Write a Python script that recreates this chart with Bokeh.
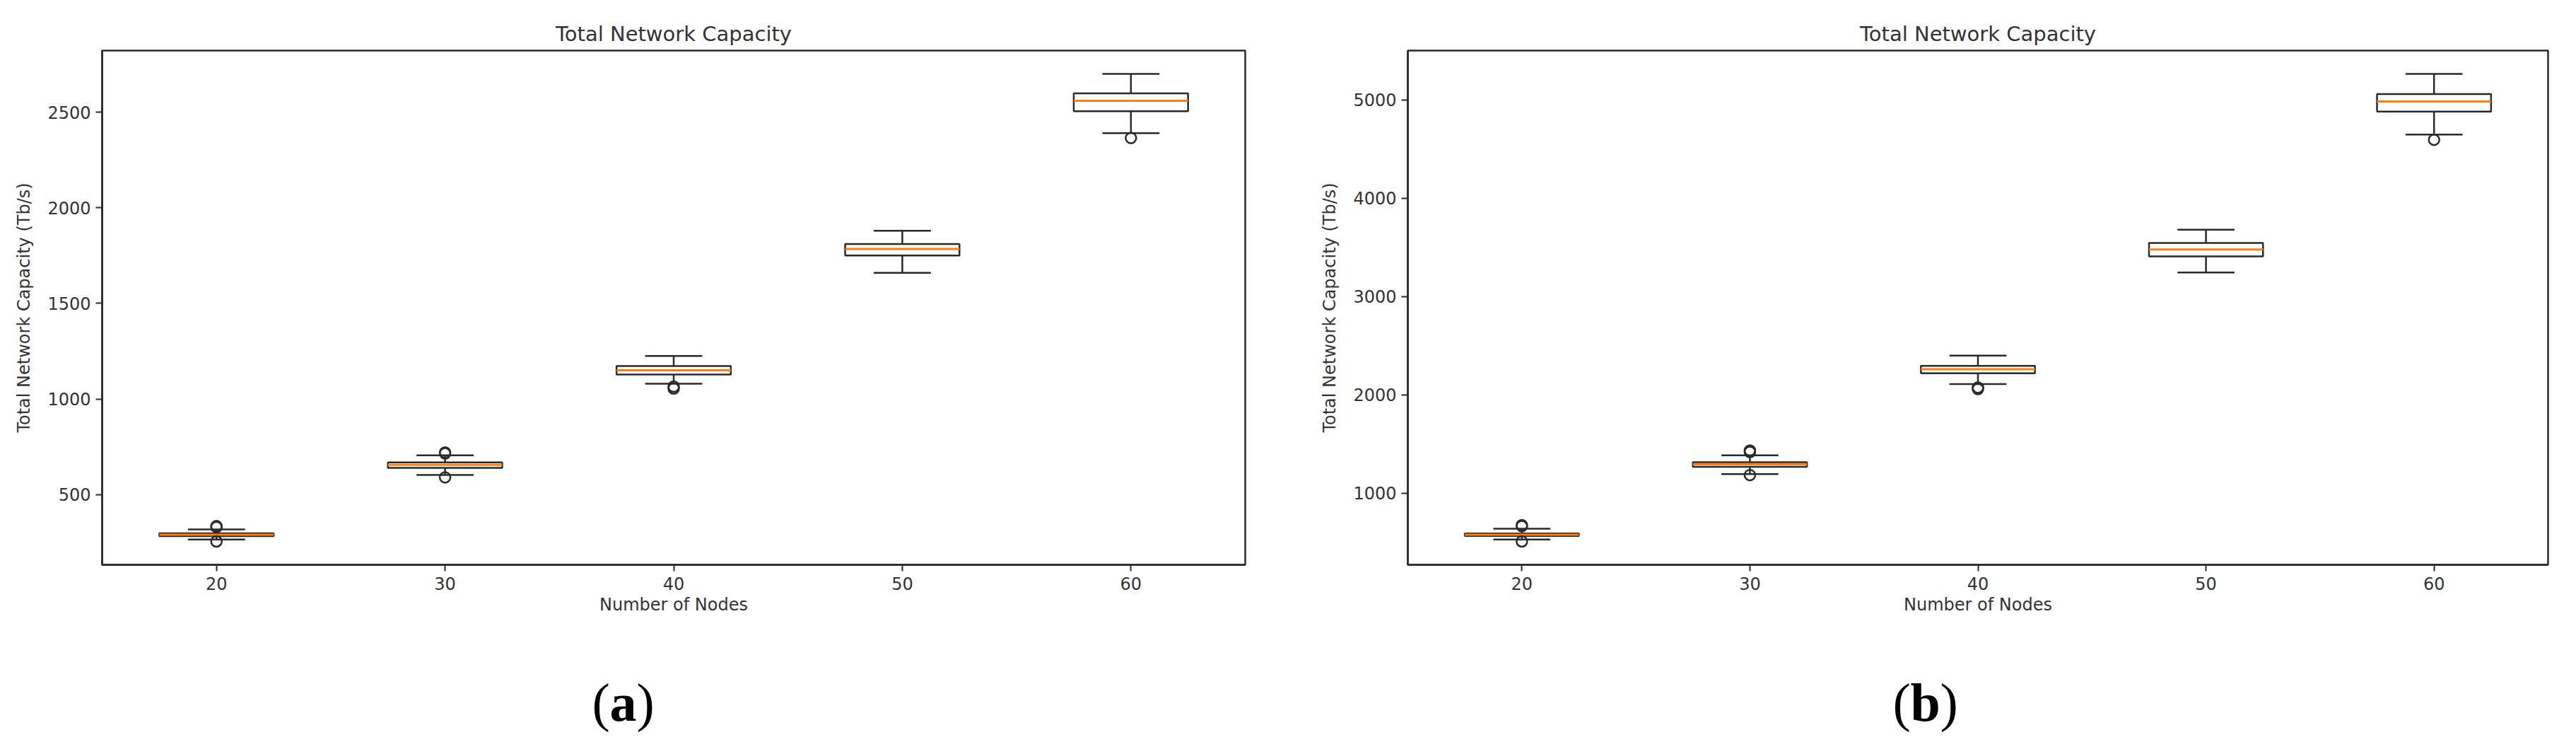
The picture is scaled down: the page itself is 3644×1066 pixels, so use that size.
from bokeh.plotting import figure
from bokeh.models import Range1d, FixedTicker
from bokeh.layouts import row, column
from bokeh.embed import file_html
from bokeh.resources import INLINE
from bokeh.core.properties import value

# ---------------- data ----------------
nodes = [20, 30, 40, 50, 60]
y_ticks_a = [500, 1000, 1500, 2000, 2500]
y_ticks_b = [1000, 2000, 3000, 4000, 5000]

a_whislo = [265, 603, 1080, 1660, 2390]
a_q1 = [283, 640, 1128, 1750, 2505]
a_med = [290, 655, 1150, 1785, 2560]
a_q3 = [297, 668, 1172, 1810, 2598]
a_whishi = [318, 705, 1225, 1880, 2700]
a_fliers = [[330, 335, 255], [715, 720, 590], [1065, 1055], [], [2365]]

b_whislo = [530, 1195, 2110, 3245, 4648]
b_q1 = [565, 1268, 2220, 3410, 4883]
b_med = [578, 1293, 2262, 3480, 4985]
b_q3 = [590, 1315, 2295, 3545, 5060]
b_whishi = [640, 1385, 2400, 3680, 5265]
b_fliers = [[665, 675, 510], [1420, 1435, 1185], [2075, 2060], [], [4595]]

title_text = "Total Network Capacity"
x_label = "Number of Nodes"
y_label = "Total Network Capacity (Tb/s)"
captions = ["a", "b"]

TXT = "#333333"
LINE = "#2a2a2a"
ORANGE = "#ff7f0e"
FONT = "DejaVu Sans"
PANEL_H = 900


def panel(whislo, q1, med, q3, whishi, fliers, yticks, width, bl, br, bt, fh, tstand):
    allv = whislo + whishi + [v for f in fliers for v in f]
    lo, hi = min(allv), max(allv)
    pad = 0.05 * (hi - lo)
    p = figure(width=width, height=PANEL_H, x_range=Range1d(15, 65),
               y_range=Range1d(lo - pad, hi + pad),
               output_backend="svg", toolbar_location=None,
               min_border_left=bl, min_border_right=br,
               min_border_top=bt, min_border_bottom=PANEL_H - bt - fh)
    hw = 2.5
    cw = 1.25
    # box
    p.quad(left=[n - hw for n in nodes], right=[n + hw for n in nodes],
           bottom=q1, top=q3, fill_color=None, line_color=LINE, line_width=2.5)
    # whiskers
    p.segment(x0=nodes, y0=q3, x1=nodes, y1=whishi, line_color=LINE, line_width=2.5)
    p.segment(x0=nodes, y0=q1, x1=nodes, y1=whislo, line_color=LINE, line_width=2.5)
    # caps
    p.segment(x0=[n - cw for n in nodes], y0=whishi, x1=[n + cw for n in nodes], y1=whishi,
              line_color=LINE, line_width=2.5)
    p.segment(x0=[n - cw for n in nodes], y0=whislo, x1=[n + cw for n in nodes], y1=whislo,
              line_color=LINE, line_width=2.5)
    # medians
    p.segment(x0=[n - hw for n in nodes], y0=med, x1=[n + hw for n in nodes], y1=med,
              line_color=ORANGE, line_width=3)
    # fliers
    fx = [n for n, f in zip(nodes, fliers) for _ in f]
    fy = [v for f in fliers for v in f]
    p.scatter(x=fx, y=fy, marker="circle", size=15, fill_color=None,
              line_color=LINE, line_width=2.5)

    p.xaxis.ticker = FixedTicker(ticks=nodes)
    p.yaxis.ticker = FixedTicker(ticks=yticks)
    p.xgrid.visible = False
    p.ygrid.visible = False
    for ax in (p.xaxis[0], p.yaxis[0]):
        ax.minor_tick_line_color = None
        ax.major_tick_out = 9
        ax.major_tick_in = 0
        ax.major_tick_line_color = LINE
        ax.major_tick_line_width = 2
        ax.axis_line_color = LINE
        ax.axis_line_width = 2.5
        ax.major_label_text_font = FONT
        ax.major_label_text_font_size = "24px"
        ax.major_label_text_color = TXT
        ax.axis_label_text_font = FONT
        ax.axis_label_text_font_size = "24px"
        ax.axis_label_text_font_style = "normal"
        ax.axis_label_text_color = TXT
    p.xaxis.axis_label = x_label
    p.yaxis.axis_label = y_label
    p.xaxis.major_label_standoff = 8
    p.xaxis.axis_label_standoff = 4
    p.yaxis.major_label_standoff = 7
    p.yaxis.axis_label_standoff = 16
    p.outline_line_color = LINE
    p.outline_line_width = 2.5
    p.outline_line_alpha = 1.0
    p.title.text = title_text
    p.title.align = "center"
    p.title.text_font = FONT
    p.title.text_font_size = "29px"
    p.title.text_font_style = "normal"
    p.title.text_color = TXT
    p.title.standoff = tstand
    return p


pa = panel(a_whislo, a_q1, a_med, a_q3, a_whishi, a_fliers, y_ticks_a,
           1862, 144, 101, 71, 734, 14)
pb = panel(b_whislo, b_q1, b_med, b_q3, b_whishi, b_fliers, y_ticks_b,
           1766, 129, 24, 66, 732, 14)

# sub-figure captions "(a)" and "(b)" (bold letter, regular parentheses)
CAP_H = 1050 - PANEL_H
q = figure(width=3628, height=CAP_H, x_range=Range1d(0, 3628), y_range=Range1d(0, CAP_H),
           output_backend="svg", toolbar_location=None, x_axis_type=None, y_axis_type=None,
           min_border=0)
q.outline_line_color = None
q.xgrid.visible = False
q.ygrid.visible = False
SERIF = value("Liberation Serif")
cap_fs = "76px"
cap_y = 58
q.text(x=[837, 900, 2677, 2744], y=[cap_y] * 4, text=["(", ")", "(", ")"],
       text_font=SERIF, text_font_size=cap_fs, text_baseline="middle",
       text_align="left", text_color="#000000")
q.text(x=[862, 2702], y=[cap_y] * 2, text=captions,
       text_font=SERIF, text_font_size=cap_fs, text_font_style="bold",
       text_baseline="middle", text_align="left", text_color="#000000")

layout = column(row(pa, pb), q)
open("out.html", "w").write(file_html(layout, INLINE))
